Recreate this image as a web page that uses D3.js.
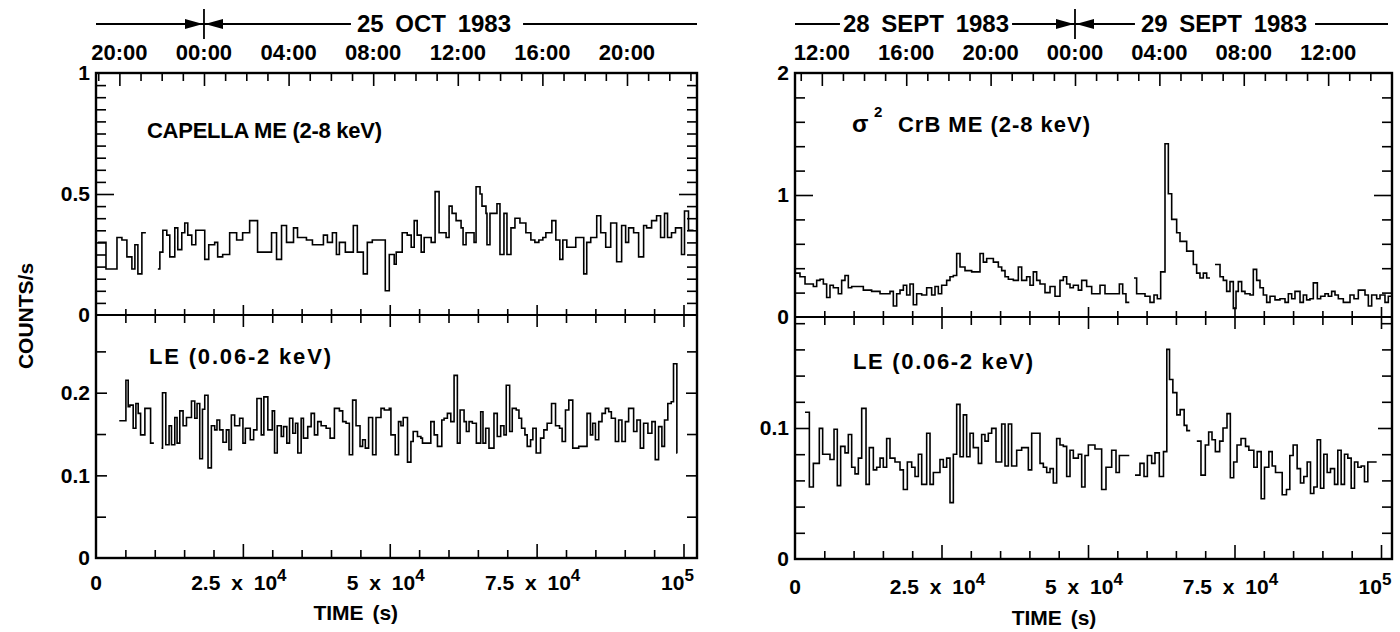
<!DOCTYPE html>
<html><head><meta charset="utf-8">
<script src="https://cdn.jsdelivr.net/npm/d3@7"></script>
<style>
body{margin:0;background:#fff}
svg text{font-family:"Liberation Sans",Arial,Helvetica,sans-serif;font-weight:bold;fill:#000}
</style>
</head><body>
<svg id="c" width="1400" height="632"></svg>
<script>
// ---------------- DATA (time in units of 10^3 s, value in counts/s; null = data gap / end) -------------
const capellaME = [[0.34,0.30],[1.70,0.19],[3.57,0.32],[4.41,0.31],[5.26,0.24],[6.11,0.19],[6.62,0.29],[7.13,0.17],[7.81,0.34],[8.49,null],[10.53,0.19],[10.87,0.26],[11.38,0.35],[12.05,0.33],[12.56,0.24],[13.41,0.36],[13.92,0.27],[14.60,0.34],[15.11,0.38],[15.62,0.33],[16.30,0.29],[16.98,0.35],[18.51,0.23],[19.19,0.29],[20.20,0.30],[20.71,0.24],[21.56,0.25],[22.75,0.34],[23.94,0.31],[24.96,0.34],[26.15,0.39],[27.50,0.26],[29.88,0.34],[30.73,0.23],[31.58,0.37],[32.43,0.30],[33.62,0.36],[34.30,0.32],[35.82,0.31],[36.84,0.29],[38.71,0.33],[39.39,0.30],[40.24,0.34],[40.92,0.25],[41.43,0.30],[42.44,0.26],[43.80,0.37],[44.48,0.26],[45.50,0.17],[46.18,0.30],[47.03,0.31],[49.24,0.10],[49.92,0.25],[50.76,0.21],[51.10,0.26],[52.12,0.34],[52.97,0.33],[53.65,0.28],[54.16,0.39],[54.67,0.33],[55.35,0.26],[55.86,0.32],[57.05,0.30],[57.72,0.51],[58.40,0.34],[59.59,0.32],[60.10,0.45],[60.61,0.42],[61.29,0.39],[62.14,0.36],[62.48,0.29],[62.99,0.34],[64.35,0.30],[64.69,0.53],[65.37,0.50],[65.70,0.45],[66.38,0.42],[66.55,0.29],[67.06,0.42],[68.25,0.46],[68.76,0.25],[69.44,0.42],[69.95,0.25],[70.63,0.36],[71.31,0.40],[72.16,0.38],[73.17,0.34],[74.02,0.31],[74.70,0.30],[75.38,0.31],[76.06,0.32],[76.57,0.34],[77.59,0.39],[78.27,0.31],[78.95,0.23],[79.46,0.31],[80.14,0.28],[81.66,0.32],[83.02,0.17],[83.53,0.30],[84.21,0.32],[85.23,0.41],[85.91,0.34],[86.76,0.28],[87.61,0.38],[88.62,0.22],[89.47,0.37],[90.15,0.30],[90.66,0.36],[91.51,0.34],[92.36,0.24],[93.21,0.37],[93.72,0.36],[94.57,0.39],[95.42,0.41],[96.10,0.32],[96.77,0.42],[97.28,0.32],[97.96,0.34],[98.64,0.36],[99.66,0.25],[100.17,0.43],[100.85,0.35],[101.70,null]];

const capellaLE = [[3.96,0.166],[5.09,0.215],[5.48,0.183],[5.77,0.185],[6.33,0.157],[6.79,0.187],[7.18,0.175],[7.59,0.149],[8.32,0.181],[9.29,0.139],[9.85,null],[11.15,0.133],[11.32,0.20],[11.88,0.137],[12.44,0.16],[12.85,0.137],[13.41,0.17],[13.80,0.139],[14.26,0.178],[14.82,0.16],[15.40,0.17],[16.25,0.19],[16.81,0.169],[17.20,0.187],[17.66,0.12],[18.12,0.18],[18.51,0.197],[19.07,0.109],[19.64,0.16],[20.20,0.155],[20.59,0.167],[21.05,0.155],[21.61,0.14],[22.19,0.155],[22.63,0.131],[23.04,0.173],[23.60,0.16],[24.45,0.169],[25.01,0.139],[25.42,0.157],[26.26,0.143],[26.83,0.155],[27.39,0.193],[28.13,0.149],[28.57,0.195],[29.25,0.155],[30.00,0.178],[30.39,0.127],[30.85,0.16],[31.53,0.147],[31.92,0.159],[32.48,0.139],[32.94,0.169],[33.50,0.151],[33.96,0.163],[34.35,0.127],[34.92,0.169],[35.31,0.145],[36.04,0.159],[36.62,0.175],[37.18,0.149],[37.74,0.165],[38.32,0.16],[39.17,0.157],[39.85,0.145],[40.58,0.181],[41.43,0.178],[41.99,0.165],[42.56,0.163],[43.12,0.125],[43.68,0.191],[44.26,0.16],[44.94,0.135],[45.38,0.143],[45.84,0.133],[46.40,0.17],[47.08,0.125],[47.66,0.17],[48.51,0.181],[49.07,0.179],[49.92,0.181],[50.20,0.149],[50.93,0.125],[51.49,0.165],[51.90,0.16],[52.29,0.17],[53.02,0.116],[53.60,0.141],[53.99,0.153],[54.72,0.147],[55.30,0.145],[55.57,0.139],[56.99,0.165],[57.56,0.149],[58.12,0.135],[58.86,0.167],[59.25,0.169],[59.81,0.175],[60.39,0.165],[60.95,0.221],[61.51,0.139],[61.97,0.179],[62.65,0.165],[63.04,0.153],[63.50,0.165],[64.06,0.163],[64.74,0.139],[65.48,0.177],[65.87,0.139],[66.33,0.157],[66.89,0.133],[67.74,0.175],[68.30,0.147],[68.88,0.16],[69.44,0.149],[69.83,0.209],[70.41,0.153],[70.85,0.181],[71.53,0.179],[71.99,0.169],[72.44,0.157],[73.01,0.149],[73.40,0.135],[73.97,0.143],[74.36,0.157],[74.92,0.127],[75.67,0.145],[76.23,0.155],[76.79,0.163],[77.54,0.187],[78.22,0.16],[78.90,0.157],[79.34,0.141],[79.91,0.179],[80.48,0.191],[81.15,0.133],[82.17,0.135],[83.58,0.175],[84.16,0.149],[84.55,0.163],[85.01,0.143],[85.57,0.165],[86.13,0.175],[86.70,0.181],[87.27,0.177],[87.72,0.169],[88.40,0.141],[88.96,0.167],[89.52,0.141],[90.10,0.165],[90.66,0.181],[91.51,0.153],[92.07,0.167],[92.65,0.133],[93.21,0.163],[93.94,0.151],[94.62,0.165],[95.19,0.119],[95.76,0.159],[96.32,0.135],[96.77,0.167],[97.33,0.187],[97.91,0.189],[98.30,0.235],[98.87,0.127],[98.95,null]];

const crbME = [[0.00,0.36],[0.85,0.33],[1.71,0.27],[3.13,0.25],[3.70,0.30],[4.27,0.31],[4.84,0.27],[5.40,0.16],[5.97,0.26],[6.54,0.24],[7.39,0.19],[7.96,0.30],[8.53,0.34],[9.10,0.24],[9.67,0.25],[11.66,0.22],[13.08,0.21],[14.51,0.19],[16.21,0.21],[16.78,0.09],[17.35,0.19],[17.92,0.22],[18.49,0.26],[19.06,0.18],[19.62,0.27],[20.19,0.10],[20.76,0.19],[21.62,0.18],[22.47,0.24],[23.32,0.18],[23.89,0.25],[24.46,0.19],[25.03,0.26],[25.88,0.30],[26.45,0.33],[27.02,0.34],[27.59,0.52],[28.16,0.41],[29.01,0.38],[30.15,0.37],[31.57,0.52],[32.14,0.45],[32.71,0.48],[33.85,0.45],[34.70,0.41],[35.27,0.38],[35.84,0.33],[36.41,0.31],[37.26,0.30],[38.11,0.41],[38.68,0.30],[39.53,0.33],[40.10,0.26],[40.67,0.37],[41.24,0.30],[41.81,0.27],[42.66,0.20],[43.52,0.25],[44.37,0.17],[45.22,0.30],[45.79,0.33],[46.36,0.27],[46.93,0.24],[47.50,0.26],[48.35,0.22],[48.92,0.30],[49.77,0.25],[50.63,0.19],[52.05,0.26],[52.90,0.19],[55.35,0.27],[55.92,0.19],[56.48,0.12],[57.05,null],[57.85,0.32],[58.30,0.19],[59.73,0.17],[60.58,0.12],[61.26,0.18],[61.83,0.15],[62.40,0.37],[63.14,1.42],[63.71,1.01],[64.28,0.80],[65.13,0.69],[65.70,0.62],[66.84,0.54],[67.97,0.43],[68.54,0.36],[69.11,0.32],[69.68,0.36],[70.25,0.32],[70.82,null],[71.67,0.43],[72.53,0.33],[73.09,0.30],[73.66,0.21],[74.23,0.29],[74.80,0.07],[75.26,0.21],[75.65,0.29],[76.22,0.21],[76.79,0.19],[77.65,0.18],[78.21,0.39],[78.78,0.30],[79.35,0.24],[79.92,0.18],[80.49,0.12],[81.06,0.17],[81.91,0.14],[82.76,0.15],[83.62,0.12],[84.19,0.19],[84.76,0.15],[85.32,0.21],[86.18,0.12],[86.75,0.18],[87.31,0.14],[87.88,0.15],[88.45,0.28],[89.14,0.15],[89.70,0.17],[90.44,0.19],[91.01,0.17],[91.58,0.21],[92.15,0.18],[92.72,0.15],[93.57,0.12],[94.71,0.18],[95.39,0.15],[96.13,0.22],[97.27,0.18],[97.84,0.09],[98.41,0.18],[99.26,0.15],[99.83,0.18],[100.68,0.12],[101.25,0.17],[101.82,null]];

const crbLE = [[1.71,0.112],[2.45,0.055],[3.13,0.073],[4.15,0.0997],[4.72,0.080],[5.97,0.076],[6.66,0.099],[7.22,0.056],[7.79,0.086],[8.53,0.081],[9.10,0.095],[9.67,0.070],[10.24,0.065],[10.81,0.077],[11.38,0.115],[12.12,0.057],[12.68,0.085],[13.37,0.068],[13.94,0.070],[14.51,0.077],[15.07,0.070],[15.64,0.092],[16.21,0.077],[17.06,0.074],[17.92,0.068],[18.49,0.053],[19.17,0.074],[19.91,0.070],[20.48,0.063],[21.05,0.080],[21.62,0.057],[22.47,0.096],[23.04,0.057],[23.61,0.066],[24.74,0.076],[25.31,0.070],[25.88,0.077],[26.45,0.043],[27.02,0.080],[27.59,0.118],[28.16,0.078],[28.73,0.110],[29.29,0.078],[29.86,0.096],[30.43,0.085],[31.29,0.073],[31.85,0.095],[32.42,0.090],[32.99,0.096],[33.56,0.0997],[34.30,0.074],[35.27,0.103],[35.84,0.071],[36.41,0.103],[36.97,0.071],[37.83,0.083],[38.68,0.085],[39.82,0.068],[40.39,0.096],[41.81,0.073],[42.38,0.070],[42.95,0.066],[43.52,0.069],[44.08,0.058],[44.65,0.092],[45.22,0.087],[45.79,0.086],[46.36,0.063],[46.93,0.083],[47.50,0.077],[48.35,0.080],[48.92,0.055],[49.49,0.079],[50.06,0.087],[51.19,0.084],[52.33,0.053],[53.07,0.070],[54.04,0.083],[54.78,0.066],[55.35,0.079],[57.05,null],[58.02,0.064],[58.87,0.073],[59.56,0.063],[60.13,0.079],[60.86,0.073],[61.43,0.081],[62.17,0.063],[62.88,0.082],[63.45,0.160],[63.91,0.137],[64.48,0.127],[65.16,0.110],[65.73,0.114],[66.41,0.102],[66.87,0.098],[67.44,null],[68.57,0.090],[69.28,0.064],[70.02,0.087],[70.59,0.097],[71.16,0.091],[71.73,0.082],[72.47,0.090],[73.04,0.100],[73.72,0.111],[74.29,0.062],[74.86,0.074],[75.43,0.087],[76.11,0.092],[76.88,0.086],[77.45,0.083],[78.30,0.070],[78.87,0.082],[79.55,0.046],[80.12,0.070],[80.86,0.082],[81.43,0.071],[82.00,0.066],[83.14,0.049],[83.87,0.053],[84.44,0.079],[85.01,0.087],[85.69,0.069],[86.26,0.058],[86.83,0.063],[87.40,0.074],[87.97,0.050],[88.54,0.055],[89.11,0.091],[89.68,0.054],[90.24,0.080],[90.81,0.066],[91.38,0.069],[92.07,0.057],[92.63,0.083],[93.20,0.057],[93.77,0.080],[94.34,0.077],[94.91,0.054],[95.48,0.074],[96.05,0.070],[96.62,0.071],[97.18,0.059],[97.75,0.074],[99.26,null]];

// tick values / labels
const xMajorTicks = [0, 25000, 50000, 75000, 100000];
const xMajorLabels = [["0",""],["2.5 x 10","4"],["5 x 10","4"],["7.5 x 10","4"],["10","5"]];
const hourLabelsLeft = ["20:00","00:00","04:00","08:00","12:00","16:00","20:00"];
const hourLabelsRight = ["12:00","16:00","20:00","00:00","04:00","08:00","12:00"];
const leftMidnight = 18380;   // s after start: 00:00, 25 Oct 1983
const rightMidnight = 47780;  // s after start: 00:00, 29 Sept 1983
const leftUpperTicks = [0, 0.5, 1], leftUpperLabels = ["0","0.5","1"];
const leftLowerTicks = [0, 0.1, 0.2], leftLowerLabels = ["0","0.1","0.2"];
const rightUpperTicks = [0, 1, 2], rightUpperLabels = ["0","1","2"];
const rightLowerTicks = [0, 0.1], rightLowerLabels = ["0","0.1"];

// ---------------- DRAWING -------------
const svg = d3.select("#c");
const FONT = '"Liberation Sans", Arial, Helvetica, sans-serif';

function tickSet(g, gen, scale, values, size, tx, ty) {
  const a = gen(scale).tickValues(values).tickSize(size).tickFormat("");
  const s = g.append("g").attr("transform", `translate(${tx},${ty})`).call(a);
  s.select(".domain").remove();
  s.selectAll("line").attr("stroke", "#000").attr("stroke-width", 1.6);
}
function labelSet(g, gen, scale, values, labels, pad, tx) {
  const a = gen(scale).tickValues(values).tickSize(0).tickPadding(pad).tickFormat((d, i) => labels[i]);
  const s = g.append("g").attr("transform", `translate(${tx},0)`).call(a)
    .attr("font-size", 21).attr("font-family", FONT).attr("font-weight", "bold");
  s.select(".domain").remove();
  s.selectAll("text").attr("fill", "#000");
}
function stepSegments(data) {
  const segs = []; let cur = null;
  for (let i = 0; i < data.length - 1; i++) {
    const t = data[i][0], v = data[i][1], t2 = data[i + 1][0];
    if (v == null) { cur = null; continue; }
    if (!cur) { cur = []; segs.push(cur); }
    cur.push([t, v], [t2, v]);
  }
  return segs;
}
function arrowHead(g, tipX, y, dir) { // dir +1 points right, -1 points left
  const L = 18, H = 5;
  g.append("path").attr("d", `M${tipX},${y} L${tipX - dir * L},${y - H} L${tipX - dir * L},${y + H} Z`).attr("fill", "#000");
}

function drawPanel(p) {
  const g = svg.append("g");
  const xMax = (p.x1 - p.x0) / p.pxPerKs * 1000;
  const x = d3.scaleLinear([0, xMax], [p.x0, p.x1]);
  const yU = d3.scaleLinear([0, p.upperMax], [p.mid, p.top]);
  const yL = d3.scaleLinear([0, p.lowerMax], [p.bottom, p.mid]);

  // data
  const line = (y) => d3.line().x(d => x(d[0] * 1000)).y(d => y(d[1]));
  [[p.me, yU], [p.le, yL]].forEach(([data, y]) => {
    stepSegments(data).forEach(seg => {
      g.append("path").attr("d", line(y)(seg)).attr("fill", "none")
        .attr("stroke", "#000").attr("stroke-width", 1.6).attr("stroke-linejoin", "miter");
    });
  });

  // frame and divider
  g.append("rect").attr("x", p.x0).attr("y", p.top).attr("width", p.x1 - p.x0).attr("height", p.bottom - p.top)
    .attr("fill", "none").attr("stroke", "#000").attr("stroke-width", 2.4);
  g.append("line").attr("x1", p.x0).attr("x2", p.x1).attr("y1", p.mid).attr("y2", p.mid)
    .attr("stroke", "#000").attr("stroke-width", 2.2);

  // x ticks (seconds)
  const minorX = d3.range(5000, xMax, 5000).filter(v => v % 25000 !== 0);
  const majorX = xMajorTicks.filter(v => v > 0 && v <= xMax);
  tickSet(g, d3.axisTop, x, minorX, 8, 0, p.bottom);
  tickSet(g, d3.axisTop, x, majorX, 14, 0, p.bottom);
  tickSet(g, d3.axisTop, x, minorX, 6, 0, p.mid);
  tickSet(g, d3.axisTop, x, majorX, 10, 0, p.mid);
  tickSet(g, d3.axisBottom, x, minorX, 8, 0, p.mid);
  tickSet(g, d3.axisBottom, x, majorX, 12, 0, p.mid);

  // top hour ticks
  const hours = d3.range(-40, 40).map(k => p.midnight + k * 3600).filter(v => v > 0 && v < xMax);
  const hMajor = hours.filter(v => Math.round((v - p.midnight) / 3600) % 4 === 0);
  const hMinor = hours.filter(v => Math.round((v - p.midnight) / 3600) % 4 !== 0);
  tickSet(g, d3.axisBottom, x, hMinor, 8, 0, p.top);
  tickSet(g, d3.axisBottom, x, hMajor, 13, 0, p.top);
  p.hourLabels.forEach((lab, i) => {
    const t = p.midnight + (i + p.firstHourIndex) * 4 * 3600;
    g.append("text").attr("x", x(t)).attr("y", 60).attr("text-anchor", "middle").attr("font-size", 22).text(lab);
  });

  // y ticks
  const yt = (scale, minor, major, minorLen, majorLen) => {
    tickSet(g, d3.axisRight, scale, minor, minorLen, p.x0, 0);
    tickSet(g, d3.axisRight, scale, major, majorLen, p.x0, 0);
    tickSet(g, d3.axisLeft, scale, minor, minorLen, p.x1, 0);
    tickSet(g, d3.axisLeft, scale, major, majorLen, p.x1, 0);
  };
  yt(yU, p.uMinor, p.uMajor, 10, 18);
  yt(yL, p.lMinor, p.lMajor, 10, p.lMajorLen);
  labelSet(g, d3.axisLeft, yU, p.uTicks, p.uLabels, p.labPad, p.x0);
  labelSet(g, d3.axisLeft, yL, p.lTicks, p.lLabels, p.labPad, p.x0);

  // x labels
  xMajorTicks.forEach((v, i) => {
    const [main, sup] = xMajorLabels[i];
    const t = g.append("text").attr("x", x(v) + (sup ? p.supShift[i] : 0)).attr("y", p.xLabY)
      .attr("text-anchor", "middle").attr("font-size", 21).style("word-spacing", "5px");
    t.append("tspan").text(main);
    if (sup) t.append("tspan").attr("dy", -9).attr("font-size", 17).text(sup);
  });
  g.append("text").attr("x", x(50000) - 34).attr("y", p.timeY).attr("text-anchor", "middle")
    .attr("font-size", 21).style("word-spacing", "3px").text("TIME (s)");

  // header
  const hy = 24, bx = x(p.midnight);
  const hdr = (txt, cx) => g.append("text").attr("x", cx).attr("y", 32).attr("text-anchor", "middle")
    .attr("font-size", 24).style("word-spacing", "5px").text(txt);
  const seg = (a, b) => g.append("line").attr("x1", a).attr("x2", b).attr("y1", hy).attr("y2", hy)
    .attr("stroke", "#000").attr("stroke-width", 2);
  g.append("line").attr("x1", bx).attr("x2", bx).attr("y1", 9).attr("y2", 39).attr("stroke", "#000").attr("stroke-width", 1.8);
  if (p.side === "left") {
    const t = hdr(p.dates[0], p.dateX[0]); const bb = t.node().getBBox();
    seg(p.x0, bx); arrowHead(g, bx - 1, hy, 1);
    seg(bx, bb.x - 6); arrowHead(g, bx + 1, hy, -1);
    seg(bb.x + bb.width + 12, p.x1);
  } else {
    const t1 = hdr(p.dates[0], p.dateX[0]); const b1 = t1.node().getBBox();
    const t2 = hdr(p.dates[1], p.dateX[1]); const b2 = t2.node().getBBox();
    seg(p.x0, b1.x - 3);
    seg(b1.x + b1.width + 3, bx); arrowHead(g, bx - 1, hy, 1);
    seg(bx, b2.x - 6); arrowHead(g, bx + 1, hy, -1);
    seg(b2.x + b2.width + 8, p.x1 - 4);
  }
  return g;
}

const gl = drawPanel({
  side: "left", x0: 96, x1: 697, pxPerKs: 5.875, top: 73, mid: 315, bottom: 558,
  upperMax: 1, lowerMax: (558 - 315) / 826.5,
  me: capellaME, le: capellaLE, midnight: leftMidnight, hourLabels: hourLabelsLeft, firstHourIndex: -1,
  uMinor: d3.range(0.05, 1, 0.05).filter(v => Math.abs(v - 0.5) > 1e-6), uMajor: [0.5],
  lMinor: [0.05, 0.15, 0.25], lMajor: [0.1, 0.2], lMajorLen: 11,
  uTicks: leftUpperTicks, uLabels: leftUpperLabels, lTicks: leftLowerTicks, lLabels: leftLowerLabels,
  labPad: 6, xLabY: 590, timeY: 620, supShift: [0, -4, -4, -4, -6],
  dates: ["25 OCT 1983"], dateX: [434]
});
const gr = drawPanel({
  side: "right", x0: 795, x1: 1392, pxPerKs: 5.86, top: 73, mid: 317, bottom: 559,
  upperMax: 2, lowerMax: (559 - 317) / 1310,
  me: crbME, le: crbLE, midnight: rightMidnight, hourLabels: hourLabelsRight, firstHourIndex: -3,
  uMinor: [0.2, 0.4, 0.6, 0.8, 1.2, 1.4, 1.6, 1.8], uMajor: [1],
  lMinor: [0.02, 0.04, 0.06, 0.08, 0.12, 0.14, 0.16, 0.18], lMajor: [0.1], lMajorLen: 14,
  uTicks: rightUpperTicks, uLabels: rightUpperLabels, lTicks: rightLowerTicks, lLabels: rightLowerLabels,
  labPad: 6, xLabY: 594, timeY: 625, supShift: [0, -4, -4, -4, -6],
  dates: ["28 SEPT 1983", "29 SEPT 1983"], dateX: [926, 1224]
});

// panel labels
const lab = (x, y, txt, len, size) => svg.append("text").attr("x", x).attr("y", y).attr("font-size", size)
  .attr("textLength", len).attr("lengthAdjust", "spacing").text(txt);
lab(147, 138, "CAPELLA ME (2-8 keV)", 235, 22);
lab(149, 364, "LE (0.06-2 keV)", 182, 22);
svg.append("text").attr("x", 852).attr("y", 132).attr("font-size", 24).attr("font-weight", "normal").text("σ");
svg.append("text").attr("x", 874).attr("y", 117).attr("font-size", 15).text("2");
lab(898, 132, "CrB ME (2-8 keV)", 192, 22);
lab(853, 369, "LE (0.06-2 keV)", 180, 22);

// y-axis title
svg.append("text").attr("transform", "translate(33,316) rotate(-90)").attr("text-anchor", "middle")
  .attr("font-size", 21).text("COUNTS/s");
</script>
</body></html>
